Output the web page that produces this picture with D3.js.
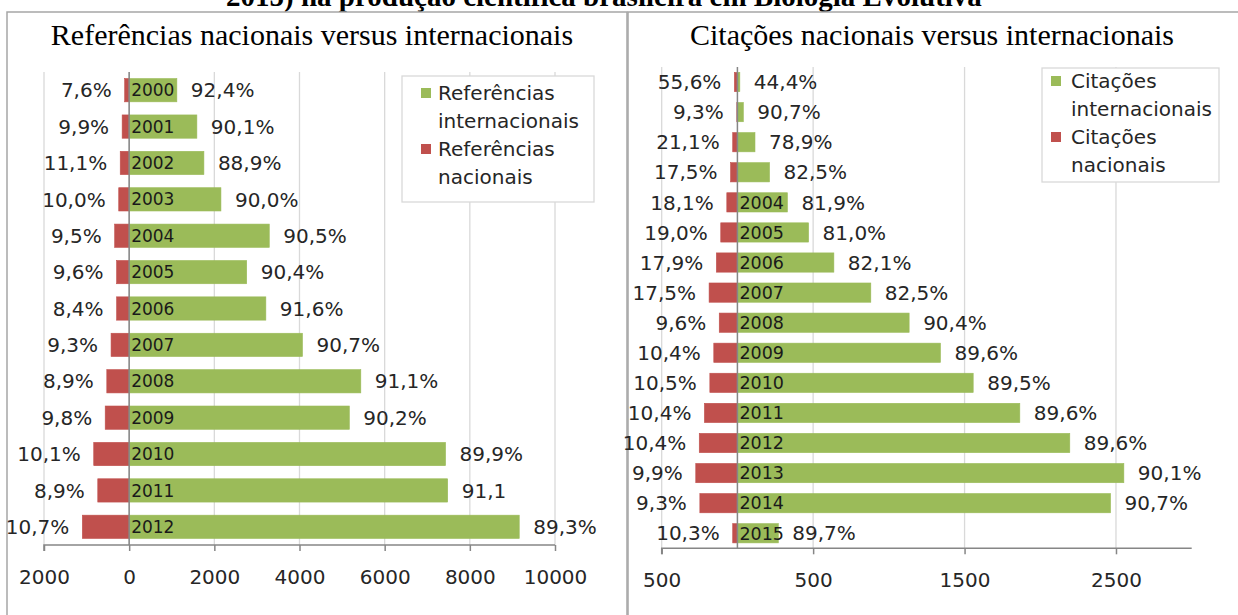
<!DOCTYPE html>
<html>
<head>
<meta charset="utf-8">
<script src="https://cdn.jsdelivr.net/npm/d3@7"></script>
<style>
  html, body { margin: 0; padding: 0; background: #fff; }
  svg { display: block; }
</style>
</head>
<body>
<svg id="chart" width="1238" height="615"></svg>
<script>
// ---------------- data ----------------
const pageHeading = "2015) na produção científica brasileira em Biologia Evolutiva";

// Left panel: Referências
const refTitle = "Referências nacionais versus internacionais";
const refYears = ["2000","2001","2002","2003","2004","2005","2006","2007","2008","2009","2010","2011","2012"];
const refInter = [1120, 1590, 1755, 2155, 3290, 2760, 3210, 4070, 5440, 5170, 7430, 7480, 9160];
const refNac   = [105, 165, 210, 245, 340, 295, 295, 425, 525, 563, 832, 737, 1100];
const refInterLabels = ["92,4%","90,1%","88,9%","90,0%","90,5%","90,4%","91,6%","90,7%","91,1%","90,2%","89,9%","91,1","89,3%"];
const refNacLabels   = ["7,6%","9,9%","11,1%","10,0%","9,5%","9,6%","8,4%","9,3%","8,9%","9,8%","10,1%","8,9%","10,7%"];
const refTicks = [-2000, 0, 2000, 4000, 6000, 8000, 10000];
const refDomain = [-2000, 10000];
const refLegend = [["Referências", "internacionais"], ["Referências", "nacionais"]];

// Right panel: Citações
const citTitle = "Citações nacionais versus internacionais";
const citYears = ["2000","2001","2002","2003","2004","2005","2006","2007","2008","2009","2010","2011","2012","2013","2014","2015"];
const citYearLabels = ["","","","","2004","2005","2006","2007","2008","2009","2010","2011","2012","2013","2014","2015"];
const citInter = [16, 39, 116, 212, 330, 470, 637, 881, 1134, 1341, 1557, 1865, 2195, 2552, 2464, 270];
const citNac   = [20, 4, 31, 45, 70, 110, 139, 187, 120, 156, 182, 218, 252, 275, 248, 31];
const citInterLabels = ["44,4%","90,7%","78,9%","82,5%","81,9%","81,0%","82,1%","82,5%","90,4%","89,6%","89,5%","89,6%","89,6%","90,1%","90,7%","89,7%"];
const citNacLabels   = ["55,6%","9,3%","21,1%","17,5%","18,1%","19,0%","17,9%","17,5%","9,6%","10,4%","10,5%","10,4%","10,4%","9,9%","9,3%","10,3%"];
const citTicks = [-500, 500, 1500, 2500];
const citDomain = [-500, 3000];
const citLegend = [["Citações", "internacionais"], ["Citações", "nacionais"]];

// ---------------- style ----------------
const GREEN = "#9BBB59", RED = "#C0504D";
const GRID = "#D9D9D9", AXIS = "#868686", TEXT = "#262626";
const SANS = "'DejaVu Sans', Verdana, sans-serif";
const SERIF = "'Liberation Serif', 'Times New Roman', serif";

const svg = d3.select("#chart");

// heading (cut off at top, as in the source page)
svg.append("text")
  .attr("x", 226).attr("y", 6)
  .attr("font-family", SERIF).attr("font-weight", "bold").attr("font-size", 29)
  .attr("fill", "#000")
  .text(pageHeading);

function drawPanel(p) {
  const g = svg.append("g");
  g.append("rect")
    .attr("x", p.frame[0]).attr("y", p.frame[1])
    .attr("width", p.frame[2]).attr("height", p.frame[3])
    .attr("fill", "#fff").attr("stroke", "#A6A6A6").attr("stroke-width", 1.5);

  g.append("text")
    .attr("x", p.titleX).attr("y", p.titleY)
    .attr("text-anchor", "middle")
    .attr("font-family", SERIF).attr("font-size", 30).attr("fill", "#000")
    .text(p.title);

  const x = d3.scaleLinear().domain(p.domain).range(p.xRange);
  const y = d3.scaleBand().domain(p.years).range(p.yRange)
    .paddingInner(0.36).paddingOuter(0.18);

  g.append("g").selectAll("line").data(p.ticks).join("line")
    .attr("x1", d => x(d)).attr("x2", d => x(d))
    .attr("y1", p.yRange[0]).attr("y2", p.yRange[1])
    .attr("stroke", GRID).attr("stroke-width", 1.3);

  const axis = d3.axisBottom(x).tickValues(p.ticks)
    .tickSize(6).tickPadding(19)
    .tickFormat(d => String(Math.abs(d)));
  const ax = g.append("g").attr("transform", `translate(0,${p.yRange[1]})`).call(axis);
  ax.select(".domain").attr("stroke", AXIS).attr("stroke-width", 1.5)
    .attr("d", `M${p.xRange[0]},6V0H${p.xRange[1]}`);
  ax.selectAll(".tick line").attr("stroke", AXIS).attr("stroke-width", 1.5);
  ax.selectAll(".tick text").attr("font-family", SANS).attr("font-size", 20).attr("fill", TEXT);

  g.append("g").selectAll("rect").data(p.years).join("rect")
    .attr("x", (d, i) => x(-p.nac[i])).attr("y", d => y(d))
    .attr("width", (d, i) => x(0) - x(-p.nac[i])).attr("height", y.bandwidth())
    .attr("fill", RED).attr("stroke", RED).attr("stroke-width", 0.6);
  g.append("g").selectAll("rect").data(p.years).join("rect")
    .attr("x", x(0)).attr("y", d => y(d))
    .attr("width", (d, i) => x(p.inter[i]) - x(0)).attr("height", y.bandwidth())
    .attr("fill", GREEN).attr("stroke", GREEN).attr("stroke-width", 0.6);

  g.append("line")
    .attr("x1", x(0)).attr("x2", x(0))
    .attr("y1", p.yRange[0]).attr("y2", p.yRange[1])
    .attr("stroke", AXIS).attr("stroke-width", 1.5);

  g.append("g").selectAll("text").data(p.years).join("text")
    .attr("x", x(0) + 2).attr("y", d => y(d) + y.bandwidth() / 2)
    .attr("dy", "0.36em")
    .attr("font-family", SANS).attr("font-size", p.yearSize).attr("fill", "#1a1a1a")
    .text((d, i) => p.yearLabels[i]);

  g.append("g").selectAll("text").data(p.years).join("text")
    .attr("x", (d, i) => x(p.inter[i]) + 14).attr("y", d => y(d) + y.bandwidth() / 2)
    .attr("dy", "0.36em")
    .attr("font-family", SANS).attr("font-size", 20).attr("fill", TEXT)
    .text((d, i) => p.interLabels[i]);
  g.append("g").selectAll("text").data(p.years).join("text")
    .attr("x", (d, i) => x(-p.nac[i]) - 13).attr("y", d => y(d) + y.bandwidth() / 2)
    .attr("dy", "0.36em").attr("text-anchor", "end")
    .attr("font-family", SANS).attr("font-size", 20).attr("fill", TEXT)
    .text((d, i) => p.nacLabels[i]);

  const L = p.legend;
  const lg = g.append("g");
  lg.append("rect").attr("x", L.x).attr("y", L.y).attr("width", L.w).attr("height", L.h)
    .attr("fill", "#fff").attr("stroke", GRID).attr("stroke-width", 1.3);
  [GREEN, RED].forEach((c, k) => {
    const by = L.y + L.first + k * 2 * L.lh;
    lg.append("rect").attr("x", L.x + L.sq).attr("y", by - 12)
      .attr("width", 10).attr("height", 10).attr("fill", c);
    p.legendText[k].forEach((t, j) => {
      lg.append("text").attr("x", L.x + L.tx).attr("y", by + j * L.lh)
        .attr("font-family", SANS).attr("font-size", 20).attr("fill", TEXT)
        .text(t);
    });
  });
}

drawPanel({
  frame: [7, 12, 620, 620],
  title: refTitle, titleX: 312, titleY: 45,
  domain: refDomain, xRange: [44, 555], yRange: [72, 545], ticks: refTicks,
  years: refYears, yearLabels: refYears, yearSize: 17,
  inter: refInter, nac: refNac, interLabels: refInterLabels, nacLabels: refNacLabels,
  legendText: refLegend,
  legend: { x: 402, y: 76, w: 192, h: 126, sq: 19, tx: 36, first: 24, lh: 28 }
});

drawPanel({
  frame: [628, 12, 620, 620],
  title: citTitle, titleX: 932, titleY: 45,
  domain: citDomain, xRange: [661.7, 1191.7], yRange: [67, 548.3], ticks: citTicks,
  years: citYears, yearLabels: citYearLabels, yearSize: 17.5,
  inter: citInter, nac: citNac, interLabels: citInterLabels, nacLabels: citNacLabels,
  legendText: citLegend,
  legend: { x: 1042, y: 68, w: 177, h: 114, sq: 9, tx: 29, first: 20, lh: 28 }
});
</script>
</body>
</html>
